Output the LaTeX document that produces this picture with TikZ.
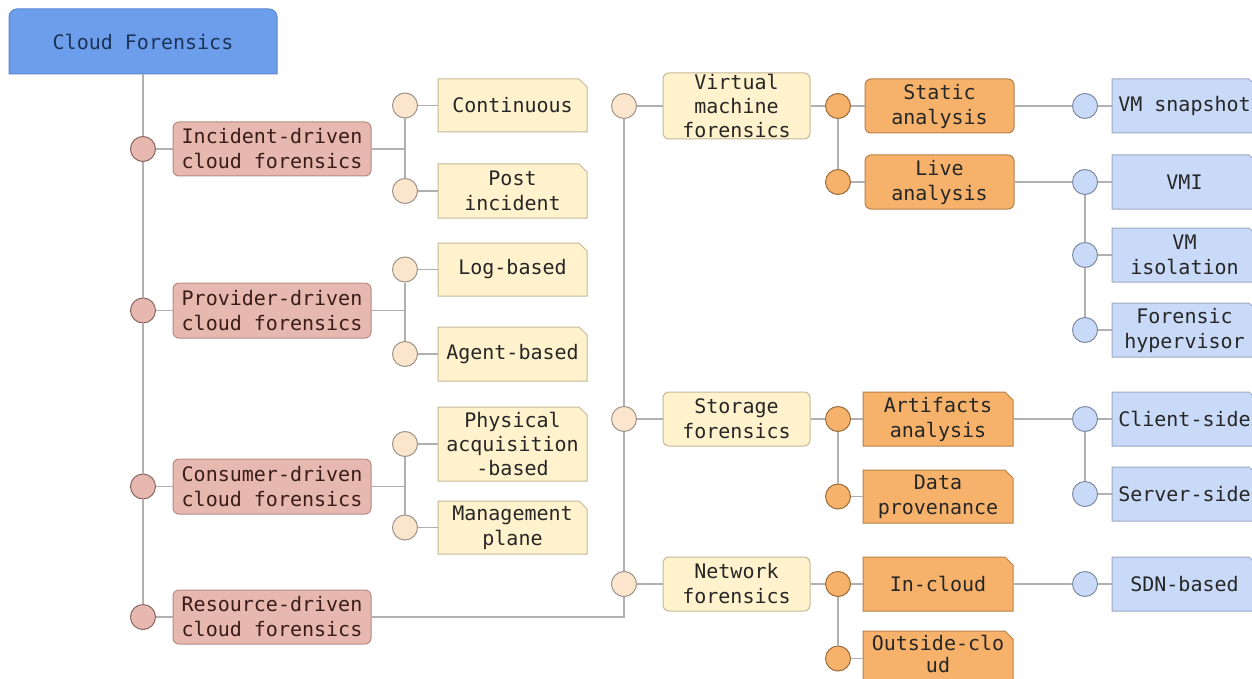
\documentclass[tikz,border=0pt]{standalone}
\usepackage{fontspec}
\setmonofont{DejaVu Sans Mono}
\usetikzlibrary{fit}
\newcommand\monof{\ttfamily\fontsize{20}{25}\selectfont}
\definecolor{rootf}{HTML}{6D9EEB}
\definecolor{rootd}{HTML}{5A86CF}
\definecolor{roott}{HTML}{1B3358}
\definecolor{redf}{HTML}{E6B8AF}
\definecolor{redd}{HTML}{B48B84}
\definecolor{redt}{HTML}{3A1C18}
\definecolor{redc}{HTML}{8C6660}
\definecolor{yelf}{HTML}{FFF2CC}
\definecolor{yeld}{HTML}{C4B897}
\definecolor{yelc}{HTML}{FCE5CD}
\definecolor{yelcd}{HTML}{9E958A}
\definecolor{oraf}{HTML}{F6B26B}
\definecolor{orad}{HTML}{B98047}
\definecolor{orac}{HTML}{9A6B3A}
\definecolor{bluf}{HTML}{C9DAF8}
\definecolor{blud}{HTML}{9AAAC6}
\definecolor{bluc}{HTML}{7C8BA6}
\definecolor{lineg}{HTML}{B0B0B0}
\definecolor{txtd}{HTML}{262626}
\tikzset{
  ln/.style={draw=lineg, line width=1.3pt},
  txt/.style={inner sep=0pt, align=center, font=\monof, text=txtd},
  redtxt/.style={txt, text=redt},
  boxbase/.style={inner sep=0pt, line width=1pt},
  redbox/.style={boxbase, draw=redd, fill=redf, rounded corners=6pt},
  yelbox/.style={boxbase, draw=yeld, fill=yelf, rounded corners=6pt},
  orabox/.style={boxbase, draw=orad, fill=oraf, rounded corners=6pt},
  yelcard/.style={draw=yeld, fill=yelf, line width=1pt},
  oracard/.style={draw=orad, fill=oraf, line width=1pt},
  blucard/.style={draw=blud, fill=bluf, line width=1pt},
  dot/.style={circle, inner sep=0pt, minimum size=25pt, line width=1pt},
  reddot/.style={dot, draw=redc, fill=redf},
  yeldot/.style={dot, draw=yelcd, fill=yelc},
  oradot/.style={dot, draw=orac, fill=oraf},
  bludot/.style={dot, draw=bluc, fill=bluf},
}
% rounded box: box style, text style, name, x1, y1, x2, y2, text
\newcommand\rbox[8]{%
  \node[#1, fit={(#4,#5) (#6,#7)}] (#3) {};
  \node[#2] (#3-t) at (#3.center) {#8};}
% card box with clipped top-right corner: shape style, text style, name, x1, y1, x2, y2, text
\newcommand\cbox[8]{%
  \path[#1] (#4,#5) -- ({#6-8},#5) -- (#6,{#5+8}) -- (#6,#7) -- (#4,#7) -- cycle;
  \node[inner sep=0pt, fit={(#4,#5) (#6,#7)}] (#3) {};
  \node[#2] (#3-t) at (#3.center) {#8};}
\begin{document}
\begin{tikzpicture}[x=1pt, y=-1pt]
\useasboundingbox (0,0) rectangle (1252,679);
\fill[white] (0,0) rectangle (1252,679);

% root
\path[fill=rootf, draw=rootd, line width=1pt] (9,74) [rounded corners=8pt] -- (9,9) -- (277,9) [sharp corners] -- (277,74) -- cycle;
\node[inner sep=0pt, fit={(9,9) (277,74)}] (root) {};
\node[txt, text=roott] (root-t) at (root.center) {Cloud Forensics};

% level 1 (red)
\rbox{redbox}{redtxt}{inc}{173}{122}{371}{176}{Incident-driven\\cloud forensics}
\rbox{redbox}{redtxt}{prv}{173}{283}{371}{338}{Provider-driven\\cloud forensics}
\rbox{redbox}{redtxt}{cns}{173}{459}{371}{514}{Consumer-driven\\cloud forensics}
\rbox{redbox}{redtxt}{rsc}{173}{590}{371}{644}{Resource-driven\\cloud forensics}
\node[reddot] (cinc) at (143,149) {};
\node[reddot] (cprv) at (143,310.5) {};
\node[reddot] (ccns) at (143,486.5) {};
\node[reddot] (crsc) at (143,617) {};

% level 2 left (yellow cards)
\cbox{yelcard}{txt}{cont}{438}{79}{587}{132}{Continuous}
\cbox{yelcard}{txt}{post}{438}{164}{587}{218}{Post\\incident}
\cbox{yelcard}{txt}{logb}{438}{243}{587}{296}{Log-based}
\cbox{yelcard}{txt}{agnt}{438}{327}{587}{381}{Agent-based}
\cbox{yelcard}{txt, font=\ttfamily\fontsize{20}{24}\selectfont}{phys}{438}{407}{587}{481}{Physical\\acquisition\\-based}
\cbox{yelcard}{txt}{mgmt}{438}{501}{587}{554}{Management\\plane}
\node[yeldot] (ccont) at (405,105.5) {};
\node[yeldot] (cpost) at (405,191) {};
\node[yeldot] (clogb) at (405,269.5) {};
\node[yeldot] (cagnt) at (405,354) {};
\node[yeldot] (cphys) at (405,444) {};
\node[yeldot] (cmgmt) at (405,527.5) {};

% level 2 right (yellow rounded)
\rbox{yelbox}{txt, font=\ttfamily\fontsize{20}{24}\selectfont}{vmf}{663}{73}{810}{139}{Virtual\\machine\\forensics}
\rbox{yelbox}{txt}{stf}{663}{392}{810}{446}{Storage\\forensics}
\rbox{yelbox}{txt}{nwf}{663}{557}{810}{611}{Network\\forensics}
\node[yeldot] (cvmf) at (624,106) {};
\node[yeldot] (cstf) at (624,419) {};
\node[yeldot] (cnwf) at (624,584) {};

% level 3 (orange)
\rbox{orabox}{txt}{stat}{865}{79}{1014}{133}{Static\\analysis}
\rbox{orabox}{txt}{live}{865}{155}{1014}{209}{Live\\analysis}
\cbox{oracard}{txt}{arti}{863}{392}{1013}{446}{Artifacts\\analysis}
\cbox{oracard}{txt}{dprv}{863}{470}{1013}{523}{Data\\provenance}
\cbox{oracard}{txt}{incl}{863}{557}{1013}{611}{In-cloud}
\cbox{oracard}{txt, yshift=5pt, font=\ttfamily\fontsize{20}{22}\selectfont}{outc}{863}{631}{1013}{686}{Outside-clo\\ud}
\node[oradot] (cstat) at (838,106) {};
\node[oradot] (clive) at (838,182) {};
\node[oradot] (carti) at (838,419) {};
\node[oradot] (cdprv) at (838,496.5) {};
\node[oradot] (cincl) at (838,584) {};
\node[oradot] (coutc) at (838,658.5) {};

% level 4 (blue cards, cut by the right edge)
\cbox{blucard}{txt}{snap}{1112}{79}{1257}{133}{VM snapshot}
\cbox{blucard}{txt}{vmi}{1112}{155}{1257}{209}{VMI}
\cbox{blucard}{txt}{iso}{1112}{228}{1257}{282}{VM\\isolation}
\cbox{blucard}{txt}{hyp}{1112}{303}{1257}{357}{Forensic\\hypervisor}
\cbox{blucard}{txt}{clnt}{1112}{392}{1257}{446}{Client-side}
\cbox{blucard}{txt}{srvr}{1112}{467}{1257}{521}{Server-side}
\cbox{blucard}{txt}{sdn}{1112}{557}{1257}{611}{SDN-based}
\node[bludot] (csnap) at (1085,106) {};
\node[bludot] (cvmi) at (1085,182) {};
\node[bludot] (ciso) at (1085,255) {};
\node[bludot] (chyp) at (1085,330) {};
\node[bludot] (cclnt) at (1085,419) {};
\node[bludot] (csrvr) at (1085,494) {};
\node[bludot] (csdn) at (1085,584) {};

% connectors: main trunk
\draw[ln] (root.south) -- (cinc.north);
\draw[ln] (cinc.south) -- (cprv.north);
\draw[ln] (cprv.south) -- (ccns.north);
\draw[ln] (ccns.south) -- (crsc.north);
\foreach \c/\b in {cinc/inc, cprv/prv, ccns/cns, crsc/rsc} \draw[ln] (\c.east) -- (\b.west);

% left sub-trees
\draw[ln] (inc.east) -- (inc.east -| ccont);
\draw[ln] (ccont.south) -- (cpost.north);
\draw[ln] (prv.east) -- (prv.east -| clogb);
\draw[ln] (clogb.south) -- (cagnt.north);
\draw[ln] (cns.east) -- (cns.east -| cphys);
\draw[ln] (cphys.south) -- (cmgmt.north);
\foreach \c/\b in {ccont/cont, cpost/post, clogb/logb, cagnt/agnt, cphys/phys, cmgmt/mgmt} \draw[ln] (\c.east) -- (\b.west);

% resource branch
\draw[ln] (rsc.east) -- (rsc.east -| cnwf) -- (cnwf.south);
\draw[ln] (cvmf.south) -- (cstf.north);
\draw[ln] (cstf.south) -- (cnwf.north);
\foreach \c/\b in {cvmf/vmf, cstf/stf, cnwf/nwf} \draw[ln] (\c.east) -- (\b.west);

% level 3 links
\draw[ln] (vmf.east) -- (cstat.west);
\draw[ln] (cstat.south) -- (clive.north);
\draw[ln] (stf.east) -- (carti.west);
\draw[ln] (carti.south) -- (cdprv.north);
\draw[ln] (nwf.east) -- (cincl.west);
\draw[ln] (cincl.south) -- (coutc.north);
\foreach \c/\b in {cstat/stat, clive/live, carti/arti, cdprv/dprv, cincl/incl, coutc/outc} \draw[ln] (\c.east) -- (\b.west);

% level 4 links
\draw[ln] (stat.east) -- (csnap.west);
\draw[ln] (live.east) -- (cvmi.west);
\draw[ln] (cvmi.south) -- (ciso.north);
\draw[ln] (ciso.south) -- (chyp.north);
\draw[ln] (arti.east) -- (cclnt.west);
\draw[ln] (cclnt.south) -- (csrvr.north);
\draw[ln] (incl.east) -- (csdn.west);
\foreach \c/\b in {csnap/snap, cvmi/vmi, ciso/iso, chyp/hyp, cclnt/clnt, csrvr/srvr, csdn/sdn} \draw[ln] (\c.east) -- (\b.west);
\end{tikzpicture}
\end{document}
